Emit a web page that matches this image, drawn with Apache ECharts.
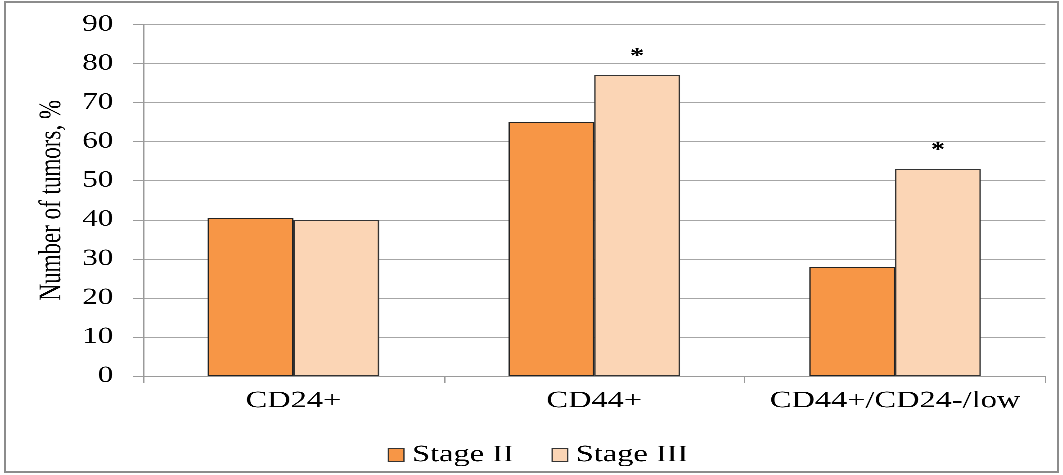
<!DOCTYPE html>
<html>
<head>
<meta charset="utf-8">
<script src="https://cdn.jsdelivr.net/npm/echarts@6/dist/echarts.min.js"></script>
<style>
html,body{margin:0;padding:0;background:#fff;overflow:hidden;}
#wrap{position:relative;width:1063px;height:475px;}
#frame{position:absolute;left:4px;top:1px;width:1051px;height:468px;border:2px solid #8c8c8c;pointer-events:none;}
#c{position:absolute;left:0;top:0;height:475px;transform-origin:0 0;}
</style>
</head>
<body>
<div id="wrap">
  <div id="c"></div>
  <div id="frame"></div>
</div>
<script>
const categories = ['CD24+', 'CD44+', 'CD44+/CD24-/low'];
const stageII = [40.5, 65, 28];
const stageIII = [40, 77, 53];
const stageIIIMarks = ['', '*', '*'];
const yTicks = [0, 10, 20, 30, 40, 50, 60, 70, 80, 90];

// The reference text is horizontally widened; draw at a narrower width and stretch.
const SX = 1.35;
const el = document.getElementById('c');
el.style.width = (1063 / SX) + 'px';
el.style.transform = 'scaleX(' + SX + ')';

const font = "'Liberation Serif', 'Times New Roman', serif";
const chart = echarts.init(el, null, {renderer: 'canvas', devicePixelRatio: 3});
chart.setOption({
  animation: false,
  backgroundColor: '#fff',
  grid: {left: 143 / SX, right: 17 / SX, top: 24.5, bottom: 99},
  legend: {
    data: ['Stage II', 'Stage III'],
    left: 381 / SX, top: 438,
    itemWidth: 11.5, itemHeight: 13, itemGap: 28,
    icon: 'rect',
    textStyle: {fontFamily: font, fontSize: 24, color: '#000', padding: [0, 0, 0, 1]},
    itemStyle: {borderColor: '#333', borderWidth: 1}
  },
  xAxis: {
    type: 'category',
    data: categories,
    axisLine: {lineStyle: {color: '#9a9a9a', width: 1}},
    axisTick: {show: true, length: 7, lineStyle: {color: '#9a9a9a'}},
    axisLabel: {fontFamily: font, fontSize: 24, color: '#000', margin: 13, interval: 0}
  },
  yAxis: {
    type: 'value',
    min: yTicks[0], max: yTicks[yTicks.length - 1], interval: 10,
    name: 'Number of tumors, %',
    nameLocation: 'middle', nameGap: 54,
    nameTextStyle: {fontFamily: font, fontSize: 23, color: '#000'},
    axisLine: {show: true, lineStyle: {color: '#9a9a9a', width: 1}},
    axisTick: {show: true, length: 10 / SX, lineStyle: {color: '#9a9a9a'}},
    axisLabel: {fontFamily: font, fontSize: 23, color: '#000', margin: 22},
    splitLine: {lineStyle: {color: '#a6a6a6', width: 1}}
  },
  series: [
    {
      name: 'Stage II', type: 'bar', data: stageII,
      barGap: '0%', barCategoryGap: '43%',
      itemStyle: {color: '#F79646', borderColor: '#222', borderWidth: 1}
    },
    {
      name: 'Stage III', type: 'bar',
      data: stageIII,
      barGap: '0%', barCategoryGap: '43%',
      itemStyle: {color: '#FBD5B5', borderColor: '#333', borderWidth: 1},
      label: {
        show: true, position: 'top', distance: 8,
        fontFamily: font, fontSize: 21, fontWeight: 'bold', color: '#000',
        formatter: p => stageIIIMarks[p.dataIndex]
      }
    }
  ]
});
</script>
</body>
</html>
